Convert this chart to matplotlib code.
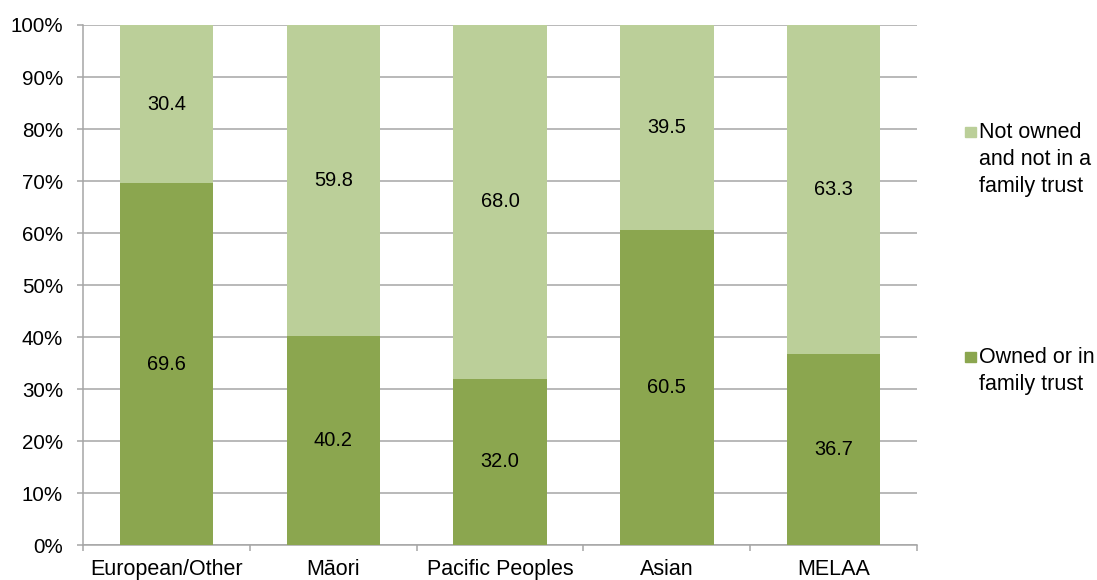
import numpy as np
import matplotlib.pyplot as plt
from matplotlib.patches import Rectangle

plt.rcParams['font.family'] = ['Liberation Sans', 'DejaVu Sans']

groups = ['European/Other', 'Māori', 'Pacific Peoples', 'Asian', 'MELAA']
owned = [69.6, 40.2, 32.0, 60.5, 36.7]
not_owned = [30.4, 59.8, 68.0, 39.5, 63.3]

dark_green = '#8ba64f'
light_green = '#bbcf99'
grid_grey = '#a6a6a6'

fig = plt.figure(figsize=(10.97, 5.80), dpi=100)
ax = fig.add_axes([0.0757, 0.0603, 0.7603, 0.8966])

x = np.arange(len(groups))
owned_pct = np.array(owned)
not_owned_pct = np.array(not_owned)

ax.bar(x, owned_pct, width=0.56, color=dark_green, zorder=3)
ax.bar(x, not_owned_pct, width=0.56, bottom=owned_pct, color=light_green, zorder=3)

# value labels in the middle of each segment
for i in range(len(groups)):
    ax.text(x[i], owned_pct[i] / 2, '%.1f' % owned[i], ha='center', va='center',
            fontsize=14.4, zorder=4)
    ax.text(x[i], owned_pct[i] + not_owned_pct[i] / 2, '%.1f' % not_owned[i],
            ha='center', va='center', fontsize=14.4, zorder=4)

ax.set_xlim(-0.5, len(groups) - 0.5)
ax.set_ylim(0, 100)
ax.set_yticks(np.arange(0, 101, 10))
ax.set_yticklabels(['%d%%' % v for v in range(0, 101, 10)], fontsize=14.8)
ax.yaxis.grid(True, color=grid_grey, linewidth=1.1, zorder=0)

# category labels centred, ticks on category boundaries
ax.set_xticks(x)
ax.set_xticklabels(groups, fontsize=15.5)
ax.set_xticks(np.arange(-0.5, len(groups)), minor=True)
ax.tick_params(axis='x', which='major', length=0, pad=10)
ax.tick_params(axis='x', which='minor', length=4, width=1.1, color=grid_grey)
ax.tick_params(axis='y', length=4.5, width=1.1, color=grid_grey, pad=10)

for side in ['top', 'right']:
    ax.spines[side].set_visible(False)
for side in ['left', 'bottom']:
    ax.spines[side].set_color(grid_grey)
    ax.spines[side].set_linewidth(1.1)

# legend entries on the right
legend_items = [(light_green, 'Not owned\nand not in a\nfamily trust', 132),
                (dark_green, 'Owned or in\nfamily trust', 357)]
W, H = 1097.0, 580.0
for colour, label, ypix in legend_items:
    fig.patches.append(Rectangle((965 / W, 1 - (ypix + 5) / H), 10.5 / W, 10.5 / H,
                                 transform=fig.transFigure, color=colour))
    fig.text(979 / W, 1 - (ypix - 10) / H, label, ha='left', va='top',
             fontsize=15.5, linespacing=1.37)

fig.savefig('out.png', dpi=100)
